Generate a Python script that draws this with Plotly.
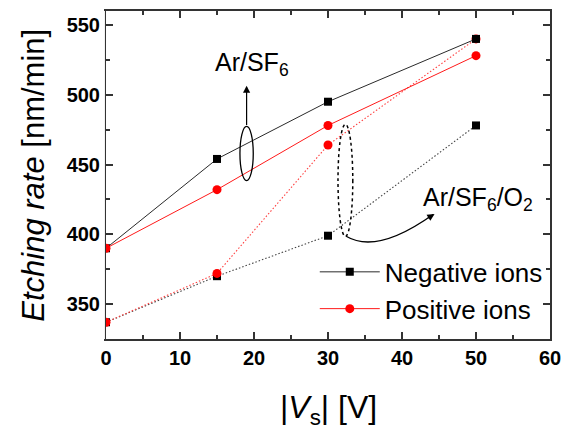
import plotly.graph_objects as go

bias_v = [0, 15, 30, 50]
neg_arsf6 = [390, 454, 495, 540]
pos_arsf6 = [390, 432, 478, 528]
neg_arsf6o2 = [337, 370, 399, 478]
pos_arsf6o2 = [337, 372, 464, 540]

FONT = "Arial, Liberation Sans, sans-serif"
BLACK = "#2a2a2a"
RED = "#ff1a1a"

fig = go.Figure()
# dotted (Ar/SF6/O2)
fig.add_trace(go.Scatter(x=bias_v, y=neg_arsf6o2, mode="lines+markers",
                         line=dict(color="#444444", width=1.1, dash="1.5px,2px"),
                         marker=dict(symbol="square", size=8, color="black"),
                         showlegend=False))
fig.add_trace(go.Scatter(x=bias_v, y=pos_arsf6o2, mode="lines+markers",
                         line=dict(color="#ff4040", width=1.1, dash="1.5px,2px"),
                         marker=dict(symbol="circle", size=9, color="red"),
                         showlegend=False))
# solid (Ar/SF6)
fig.add_trace(go.Scatter(x=bias_v, y=neg_arsf6, mode="lines+markers",
                         name="Negative ions",
                         line=dict(color=BLACK, width=1),
                         marker=dict(symbol="square", size=8, color="black")))
fig.add_trace(go.Scatter(x=bias_v, y=pos_arsf6, mode="lines+markers",
                         name="Positive ions",
                         line=dict(color=RED, width=1),
                         marker=dict(symbol="circle", size=9, color="red")))

axis_common = dict(
    showgrid=False, zeroline=False, showline=True, linecolor="#333333", linewidth=2,
    mirror="ticks", ticks="inside", ticklen=7, tickwidth=1.5, tickcolor="#333333",
    tickfont=dict(family=FONT, size=20, color="black", weight="bold"),
)

fig.update_xaxes(range=[0, 60], dtick=10, tick0=0,
                 minor=dict(dtick=5, ticks="inside", ticklen=4, tickcolor="#333333", tickwidth=1.5),
                 **axis_common)
fig.update_yaxes(range=[325, 560], dtick=50, tick0=350,
                 minor=dict(dtick=25, ticks="inside", ticklen=4, tickcolor="#333333", tickwidth=1.5),
                 **axis_common)

# mask so that markers on the left axis appear clipped by the frame
fig.add_shape(type="rect", xref="paper", yref="paper", x0=-0.0115, x1=-0.0024, y0=0.0, y1=1.0,
              fillcolor="white", line=dict(width=0), layer="above")

# Ellipses
fig.add_shape(type="circle", xref="x", yref="y", x0=18.1, x1=19.9, y0=438.5, y1=477.3,
              line=dict(color="black", width=1.3))
fig.add_shape(type="circle", xref="x", yref="y", x0=31.35, x1=33.35, y0=398.5, y1=478.8,
              line=dict(color="black", width=1.5, dash="dot"))
# curved arrow
fig.add_shape(type="path", xref="x", yref="y",
              path="M 32.45,398.6 Q 36.6,385.5 44.2,414.2",
              line=dict(color="black", width=1.3))

annotations = [
    # vertical arrow
    dict(x=19.0, y=506.5, ax=19.0, ay=477.3, xref="x", yref="y", axref="x", ayref="y",
         text="", showarrow=True, arrowhead=2, arrowsize=1.2, arrowwidth=1.2, arrowcolor="black"),
    # arrowhead of curve
    dict(x=44.4, y=414.6, ax=43.3, ay=411.0, xref="x", yref="y", axref="x", ayref="y",
         text="", showarrow=True, arrowhead=2, arrowsize=1.2, arrowwidth=1.2, arrowcolor="black"),
    dict(x=14.4, y=522, xref="x", yref="y", xanchor="left", yanchor="middle",
         text="Ar/SF<sub>6</sub>", showarrow=False,
         font=dict(family=FONT, size=25, color="black")),
    dict(x=42.6, y=425, xref="x", yref="y", xanchor="left", yanchor="middle",
         text="Ar/SF<sub>6</sub>/O<sub>2</sub>", showarrow=False,
         font=dict(family=FONT, size=25, color="black")),
    # axis titles
    dict(x=-0.165, y=0.5, xref="paper", yref="paper", xanchor="center", yanchor="middle",
         textangle=-90, showarrow=False,
         text="<i>Etching rate</i> [nm/min]",
         font=dict(family=FONT, size=31, color="black")),
    dict(x=0.5, y=-0.215, xref="paper", yref="paper", xanchor="center", yanchor="middle",
         showarrow=False,
         text="|<i>V</i><sub>s</sub>| [V]",
         font=dict(family=FONT, size=32, color="black")),
]

fig.update_layout(
    width=572, height=436,
    margin=dict(l=106, r=22, t=9, b=97),
    paper_bgcolor="white", plot_bgcolor="white",
    annotations=annotations,
    legend=dict(x=0.995, y=0.02, xanchor="right", yanchor="bottom",
                bgcolor="rgba(0,0,0,0)", font=dict(family=FONT, size=26, color="black"),
                itemwidth=60, tracegroupgap=0),
)

fig.write_html("out.html")
